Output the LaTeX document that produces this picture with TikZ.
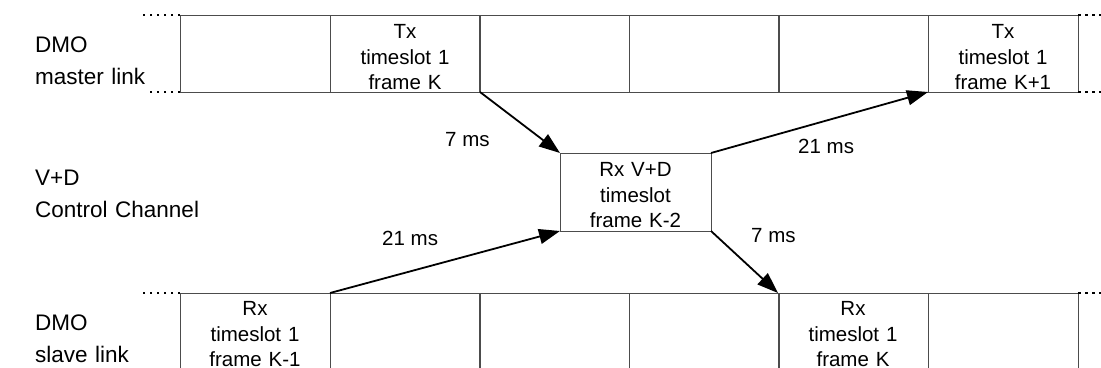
\documentclass[tikz,border=0pt]{standalone}
\usepackage{fontspec}
\setmainfont{Liberation Sans}
\usetikzlibrary{arrows.meta}
\begin{document}
\begin{tikzpicture}[x=1pt,y=1pt,
  cell/.style={draw=black!70, line width=0.9pt, minimum width=150pt, inner sep=0pt, outer sep=0pt, anchor=north west},
  toprow/.style={cell, minimum height=77pt},
  botrow/.style={cell, minimum height=82pt},
  midbox/.style={draw=black!70, line width=0.9pt, minimum width=151pt, minimum height=78pt, inner sep=0pt, outer sep=0pt},
  celltext/.style={font=\fontsize{20.5}{25.5}\selectfont, text width=150pt, align=center, anchor=base, inner sep=0pt},
  side/.style={font=\fontsize{22.5}{32}\selectfont, text width=200pt, align=left, anchor=base west, inner sep=0pt},
  ms/.style={font=\fontsize{20.5}{24}\selectfont, anchor=base west, inner sep=0pt},
  arr/.style={line width=1.8pt, -{Triangle[length=21pt,width=15pt]}},
  dots/.style={line width=2pt, dash pattern=on 2.5pt off 4.5pt}]
\useasboundingbox (0,0) rectangle (1101,367);
% top row
\node[toprow] (t1) at (180,352) {};
\node[toprow] (t2) at (330,352) {};
\node[toprow] (t3) at (479,352) {};
\node[toprow] (t4) at (629,352) {};
\node[toprow] (t5) at (778,352) {};
\node[toprow] (t6) at (928,352) {};
% bottom row
\node[botrow] (b1) at (180,74) {};
\node[botrow] (b2) at (330,74) {};
\node[botrow] (b3) at (479,74) {};
\node[botrow] (b4) at (629,74) {};
\node[botrow] (b5) at (778,74) {};
\node[botrow] (b6) at (928,74) {};
% middle box
\node[midbox] (mid) at (635.5,175) {};
% cell texts
\node[celltext] (tt2) at (405,328) {Tx\\timeslot 1\\frame K};
\node[celltext] (tt6) at (1003,328) {Tx\\timeslot 1\\frame K+1};
\node[celltext] (bt1) at (255,51) {Rx\\timeslot 1\\frame K-1};
\node[celltext] (bt5) at (853,51) {Rx\\timeslot 1\\frame K};
\node[celltext] (mt) at (635.5,190) {Rx V+D\\timeslot\\frame K-2};
% side labels
\node[side] (s1) at (35,314) {DMO\\master link};
\node[side] (s2) at (35,181) {V+D\\Control Channel};
\node[side] (s3) at (35,36) {DMO\\slave link};
% dotted continuations
\draw[dots] (t1.north west) -- ++(-42,0);
\draw[dots] (t1.south west) -- ++(-34,0);
\draw[dots] (t6.north east) -- ++(26,0);
\draw[dots] (t6.south east) -- ++(26,0);
\draw[dots] (b1.north west) -- ++(-42,0);
\draw[dots] (b6.north east) -- ++(26,0);
% arrows
\draw[arr] (t2.south east) -- (mid.north west);
\draw[arr] (mid.north east) -- (t6.south west);
\draw[arr] (b1.north east) -- (mid.south west);
\draw[arr] (mid.south east) -- (b5.north west);
% timing labels
\node[ms] (l1) at (445,220) {7 ms};
\node[ms] (l2) at (798,213) {21 ms};
\node[ms] (l3) at (382,121) {21 ms};
\node[ms] (l4) at (751,124) {7 ms};
\end{tikzpicture}
\end{document}
